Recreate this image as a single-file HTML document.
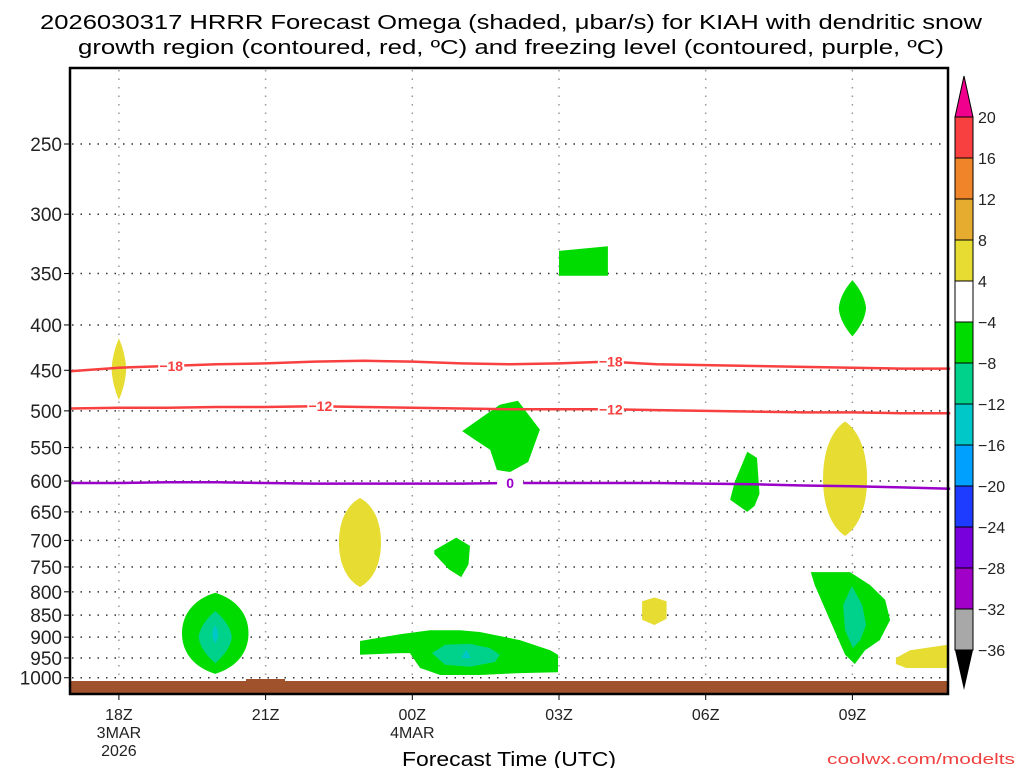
<!DOCTYPE html>
<html><head><meta charset="utf-8"><style>
html,body{margin:0;padding:0;background:#fff;}
svg{display:block;font-family:"Liberation Sans",sans-serif;}
</style></head><body>
<svg id="chart" width="1024" height="768" viewBox="0 0 1024 768" xmlns="http://www.w3.org/2000/svg">
<text x="511" y="29" font-size="20" text-anchor="middle" textLength="942" lengthAdjust="spacingAndGlyphs">2026030317 HRRR Forecast Omega (shaded, μbar/s) for KIAH with dendritic snow</text>
<text x="511" y="54" font-size="20" text-anchor="middle" textLength="866" lengthAdjust="spacingAndGlyphs">growth region (contoured, red, ºC) and freezing level (contoured, purple, ºC)</text>
<g id="grid"></g>
<g id="shades"></g>
<g id="ground"></g>
<g id="lines"></g>
<rect x="70" y="68" width="878" height="626" fill="none" stroke="#000" stroke-width="2.5"/>
<g id="axes"></g>
<text x="509" y="766" font-size="20" text-anchor="middle" textLength="214" lengthAdjust="spacingAndGlyphs">Forecast Time (UTC)</text>
<text x="1015" y="764" font-size="15" fill="#f04040" text-anchor="end" textLength="188" lengthAdjust="spacingAndGlyphs">coolwx.com/modelts</text>
<g id="colorbar"></g>
</svg>
<script>
// ---- data ----
const pressureLevels = [250,300,350,400,450,500,550,600,650,700,750,800,850,900,950,1000];
const timeTickHours = [1,4,7,10,13,16];
const timeTickLabels = [["18Z","3MAR","2026"],["21Z"],["00Z","4MAR"],["03Z"],["06Z"],["09Z"]];
const lineHours = [0,1,2,3,4,5,6,7,8,9,10,11,12,13,14,15,16,17,18];
const isoMinus18 = [451,447,445,443,442,440,439,440,442,443,442,440,443,444,445,446,447,448,448];
const isoMinus12 = [497,496,496,495,495,494,495,496,497,498,498,498,499,500,501,502,502,503,503];
const isoZero = [603,603,602,602,603,604,604,604,604,603,603,603,603,604,605,607,608,610,612];
const cbLevels = ["20","16","12","8","4","−4","−8","−12","−16","−20","−24","−28","−32","−36"];
const cbColors = ["#f84040","#f08428","#e6ac30","#e6dc32","#ffffff","#00dc00","#00d28c","#00c8c8","#00a0ff","#1e3cff","#7800dc","#a000c8","#a8a8a8"];
// lens blobs: [centerHour, halfWidthHours, topHPa, bottomHPa, colorIndex, shape]
const lensBlobs = [
 [1.0,0.15,414,486,3,"d"],
 [16.0,0.28,356,412,5,"d"],
 [15.85,0.45,514,692,3,"l"],
 [5.93,0.43,627,790,3,"l"],
 [2.97,0.68,802,990,5,"l"],
 [2.97,0.34,841,963,6,"d"],
 [2.97,0.06,872,915,7,"d"]
];
// polygon blobs: hours and pressures
const polyGreenRectH = [10.0,11.0,11.0,10.0];
const polyGreenRectP = [330,326,352,352];
const polyBlob02H = [8.02,8.79,9.16,9.61,9.37,9.0,8.73,8.59,8.28];
const polyBlob02P = [527,492,487,525,571,586,583,553,539];
const poly07H = [13.6,13.85,14.05,14.1,14.0,13.85,13.5,13.6];
const poly07P = [600,556,565,620,640,650,630,600];
const poly01H = [7.45,7.9,8.18,8.15,8.0,7.75,7.45];
const poly01P = [718,695,710,745,770,755,725];
const poly05H = [11.7,11.95,12.2,12.2,11.95,11.7];
const poly05P = [820,812,820,858,872,860];
const polyBigH = [5.93,6.75,7.36,7.98,8.38,9.2,9.82,9.98,9.98,9.2,8.38,7.57,7.16,6.95,6.75,5.93];
const polyBigP = [909,893,884,884,888,907,931,942,986,988,993,993,975,938,938,942];
const polyBigTealH = [7.4,7.67,8.18,8.59,8.79,8.69,8.18,7.67];
const polyBigTealP = [938,918,916,926,942,960,972,967];
const polyBigCyanH = [8.0,8.1,8.2];
const polyBigCyanP = [950,930,950];
const poly09H = [15.15,15.95,16.36,16.67,16.77,16.56,16.26,16.05,15.85,15.54,15.23];
const poly09P = [760,760,786,817,861,907,931,965,942,861,786];
const poly09TealH = [15.99,16.2,16.28,16.16,16.01,15.85,15.81];
const poly09TealP = [788,828,872,907,926,884,828];
const polyYellowRH = [16.89,17.18,17.95,17.95,17.1,16.89];
const polyYellowRP = [950,931,918,975,975,965];

// ---- axes ----
const X0=70, PX_PER_H=48.9;
function xs(h){return X0+h*PX_PER_H;}
function ys(p){return 144+385*Math.log(p/250);}
const NS="http://www.w3.org/2000/svg";
function mk(tag,attrs,parent){const e=document.createElementNS(NS,tag);for(const k in attrs)e.setAttribute(k,attrs[k]);parent.appendChild(e);return e;}

const grid=document.getElementById('grid');
const axes=document.getElementById('axes');
pressureLevels.forEach(p=>{
  const y=ys(p);
  const l=mk('line',{x1:72,x2:947,y1:y,y2:y,stroke:'#333','stroke-width':1.5,'stroke-dasharray':'1.5 7'},grid);
  
  
  const t=mk('line',{x1:64,x2:70,y1:y,y2:y,stroke:'#000','stroke-width':1},axes);
  
  
  const tx=mk('text',{x:62,y:y+7,'font-size':19,'text-anchor':'end',fill:'#222'},axes);
  tx.textContent=String(p);
  
  
});
timeTickHours.forEach((h,i)=>{
  const x=xs(h);
  const l=mk('line',{x1:x,x2:x,y1:70,y2:692,stroke:'#999','stroke-width':1.5,'stroke-dasharray':'1.5 7'},grid);
  
  
  const t=mk('line',{x1:x,x2:x,y1:694,y2:700,stroke:'#000','stroke-width':1},axes);
  
  
  timeTickLabels[i].forEach((s,j)=>{
    const tx=mk('text',{x:x,y:720+j*18,'font-size':16,'text-anchor':'middle',fill:'#222'},axes);
    tx.textContent=s;
    
    
  });
});

// ---- shaded blobs ----
const shades=document.getElementById('shades');
const fillCol=[null,null,null,"#e6dc32",null,"#00dc00","#00d28c","#00c8c8"];
function polyPath(H,P){return H.map((h,i)=>(i?'L':'M')+xs(h).toFixed(1)+' '+ys(P[i]).toFixed(1)).join(' ')+' Z';}
function addPoly(H,P,ci,name){
  const e=mk('path',{d:polyPath(H,P),fill:fillCol[ci]},shades);
  
  
}
addPoly(polyGreenRectH,polyGreenRectP,5,'omega-area-03z-350');
addPoly(polyBlob02H,polyBlob02P,5,'omega-area-02z-550');
addPoly(poly07H,poly07P,5,'omega-area-07z-600');
addPoly(poly01H,poly01P,5,'omega-area-01z-725');
addPoly(poly05H,poly05P,3,'omega-positive-05z-840');
addPoly(polyBigH,polyBigP,5,'omega-area-01z-950');
addPoly(polyBigTealH,polyBigTealP,6,'omega-core-01z-950');
addPoly(polyBigCyanH,polyBigCyanP,7,'omega-peak-01z-950');
addPoly(poly09H,poly09P,5,'omega-area-09z-850');
addPoly(poly09TealH,poly09TealP,6,'omega-core-09z-850');
addPoly(polyYellowRH,polyYellowRP,3,'omega-positive-10z-950');
lensBlobs.forEach((b,i)=>{
  const [h,hw,pt,pb,ci,shape]=b;
  const cx=xs(h), w=hw*PX_PER_H, yt=ys(pt), yb=ys(pb), ym=(yt+yb)/2;
  let d;
  if(shape==='d'){
    d=`M${cx} ${yt} Q${cx+w*0.9} ${ym-(ym-yt)*0.5} ${cx+w} ${ym} Q${cx+w*0.9} ${ym+(yb-ym)*0.5} ${cx} ${yb} Q${cx-w*0.9} ${ym+(yb-ym)*0.5} ${cx-w} ${ym} Q${cx-w*0.9} ${ym-(ym-yt)*0.5} ${cx} ${yt} Z`;
  } else {
    const a=(ym-yt), c=(yb-ym);
    d=`M${cx} ${yt} C${cx+w*0.6} ${yt+a*0.15} ${cx+w} ${ym-a*0.5} ${cx+w} ${ym} C${cx+w} ${ym+c*0.5} ${cx+w*0.6} ${yb-c*0.15} ${cx} ${yb} C${cx-w*0.6} ${yb-c*0.15} ${cx-w} ${ym+c*0.5} ${cx-w} ${ym} C${cx-w} ${ym-a*0.5} ${cx-w*0.6} ${yt+a*0.15} ${cx} ${yt} Z`;
  }
  const e=mk('path',{d:d,fill:fillCol[ci]},shades);
  
  
});

// ---- ground ----
const ground=document.getElementById('ground');
const g1=mk('rect',{x:71,y:681,width:876,height:12,fill:'#a0522d'},ground);


const g2=mk('rect',{x:246,y:679,width:39,height:3,fill:'#a0522d'},ground);



// ---- contour lines ----
const lines=document.getElementById('lines');
function addLine(P,col,name,labels,labelText){
  const d=lineHours.map((h,i)=>(i?'L':'M')+xs(h).toFixed(1)+' '+ys(P[i]).toFixed(1)).join(' ');
  const e=mk('path',{d:d,fill:'none',stroke:col,'stroke-width':2.5},lines);
  
  
  labels.forEach((h,j)=>{
    const i=Math.round(h);
    const y=ys(P[Math.min(i,P.length-1)]);
    const bg=mk('rect',{x:xs(h)-13,y:y-7,width:26,height:14,fill:'#fff'},lines);
    
    
    const t=mk('text',{x:xs(h),y:y+5,'font-size':14,'font-weight':'bold','text-anchor':'middle',fill:col},lines);
    t.textContent=labelText;
    
    
  });
}
addLine(isoMinus18,'#f84040','isotherm-minus18',[2.07,11.06],'−18');
addLine(isoMinus12,'#f84040','isotherm-minus12',[5.12,11.06],'−12');
addLine(isoZero,'#9a00c8','freezing-level',[9.0],'0');

// ---- colorbar ----
const cb=document.getElementById('colorbar');
const CBX=955, CBW=18, CBT=117, CBH=41;
const up=mk('polygon',{points:`${CBX},${CBT} ${CBX+CBW/2},76 ${CBX+CBW},${CBT}`,fill:'#f0008c',stroke:'#000','stroke-width':1},cb);


cbColors.forEach((c,i)=>{
  const r=mk('rect',{x:CBX,y:CBT+i*CBH,width:CBW,height:CBH,fill:c,stroke:'#000','stroke-width':1},cb);
  
  
});
const yEnd=CBT+cbColors.length*CBH;
const dn=mk('polygon',{points:`${CBX},${yEnd} ${CBX+CBW/2},${yEnd+40} ${CBX+CBW},${yEnd}`,fill:'#000'},cb);


cbLevels.forEach((s,i)=>{
  const t=mk('text',{x:978,y:CBT+i*CBH+6,'font-size':16,fill:'#222'},cb);
  t.textContent=s;
  
  
});
</script>
</body></html>
